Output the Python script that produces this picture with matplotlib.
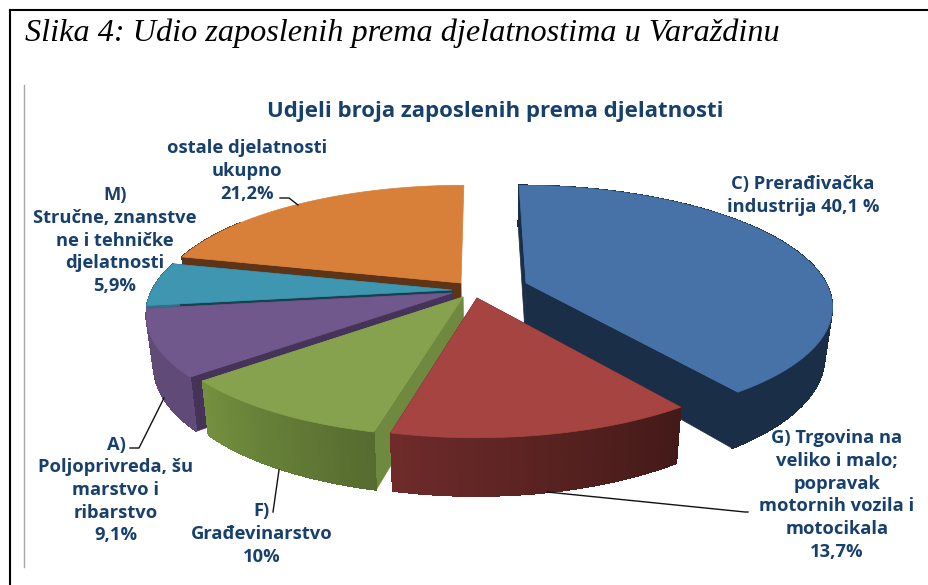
import numpy as np
import matplotlib
matplotlib.use('Agg')
import matplotlib.pyplot as plt
from matplotlib.collections import PolyCollection
from matplotlib.patches import Polygon

# udjeli u postocima, redom od 12 sati u smjeru kazaljke
names = ['C', 'G', 'F', 'A', 'M', 'ostale']
shares = [40.1, 13.7, 10.0, 9.1, 5.9, 21.2]

label_texts = ['C) Prerađivačka\nindustrija 40,1 %',
               'G) Trgovina na\nveliko i malo;\npopravak\nmotornih vozila i\nmotocikala\n13,7%',
               'F)\nGrađevinarstvo\n10%',
               'A)\nPoljoprivreda, šu\nmarstvo i\nribarstvo\n9,1%',
               'M)\nStručne, znanstve\nne i tehničke\ndjelatnosti\n5,9%',
               'ostale djelatnosti\nukupno\n21,2%']

# stil i raspored (pikseli slike)
apex = {'C': (526, 283), 'G': (477, 298), 'F': (463, 297), 'A': (452, 293), 'M': (452, 290), 'ostale': (461, 283)}
top_col = {'C': '#4672a7', 'G': '#a64441', 'F': '#87a24e', 'A': '#70578c', 'M': '#3f96b0', 'ostale': '#d8803a'}
cut_col = {'C': '#1b2e47', 'G': '#431a18', 'F': '#6f8a40', 'A': '#46335a', 'M': '#17414f', 'ostale': '#5e3418'}
side_col = {'C': ('#1b2e47', '#1b2e47'), 'G': ('#431a18', '#6e2b2a'), 'F': ('#566b30', '#74903f'),
            'A': ('#5f4a78', '#5f4a78'), 'M': ('#2f7186', '#2f7186'), 'ostale': ('#5e3418', '#5e3418')}
label_pos = {'C': (803, 195.5), 'G': (837, 495), 'F': (262, 534), 'A': (116, 490), 'M': (115, 240.5), 'ostale': (247, 171)}
leaders = [[(280, 198), (289, 198), (298, 205)],
           [(130, 448), (139, 448), (164, 398)],
           [(273, 512), (279, 470)],
           [(748, 512), (745, 512), (547, 492)]]
draw_order = ['ostale', 'M', 'A', 'F', 'C', 'G']

W, H = 929, 585
X0 = 480      # tocka prema kojoj se sve skuplja (perspektiva)
RX, RY, P = 300, 115, 0.177
DEPTH, BOTTOM = 48, 0.978


def project(ax_, ay_, t):
    # t u stupnjevima od 12 sati
    t = np.radians(t)
    u, v = np.sin(t), np.cos(t)
    s = 1 / (1 + P * v)
    x = X0 + (ax_ - X0 + RX * u) * s
    y = ay_ - RY * v * s
    return x, y, s


def lower(x, y, s):
    return X0 + (x - X0) * BOTTOM, y + DEPTH * s


def mix(c1, c2, f):
    a = np.array(matplotlib.colors.to_rgb(c1))
    b = np.array(matplotlib.colors.to_rgb(c2))
    return tuple(a + (b - a) * f)


fig = plt.figure(figsize=(W / 100, H / 100), dpi=100)
ax = fig.add_axes([0, 0, 1, 1])
ax.set_xlim(0, W)
ax.set_ylim(H, 0)
ax.axis('off')

# okvir stranice
ax.plot([10, 10], [H, 10], color='black', lw=1.5, solid_capstyle='projecting')
ax.plot([10, W], [10, 10], color='black', lw=1.5, solid_capstyle='projecting')
ax.plot([24.5, 24.5], [85, 567], color='#a8a8a8', lw=1)

ax.text(25, 33, 'Slika 4: Udio zaposlenih prema djelatnostima u Varaždinu', family='Liberation Serif',
        style='italic', fontsize=23.2, color='black', ha='left', va='center')
ax.text(495, 112, 'Udjeli broja zaposlenih prema djelatnosti', family='Open Sans', weight='bold',
        fontsize=16, color='#17406d', ha='center', va='center')

edges = np.cumsum([0] + shares) * 3.6
start = dict(zip(names, edges[:-1]))
stop = dict(zip(names, edges[1:]))

for n in draw_order:
    a = apex[n]
    ts = np.linspace(start[n], stop[n], 90)
    x, y, s = project(a[0], a[1], ts)
    xb, yb = lower(x, y, s)
    ax0b = lower(a[0], a[1], 1)

    # rezovi (desni rez narancaste se ne vidi)
    for i in ((0,) if n == 'ostale' else (0, -1)):
        pts = [a, (x[i], y[i]), (xb[i], yb[i]), ax0b]
        ax.add_patch(Polygon(pts, closed=True, fc=cut_col[n], ec=cut_col[n], lw=0.5))

    # vanjski rub, sjencanje po segmentima (narancasta: samo lijevi kraj)
    quads = []
    cols = []
    n_seg = 25 if n == 'ostale' else len(ts) - 1
    for i in range(n_seg):
        quads.append([(x[i], y[i]), (x[i + 1], y[i + 1]), (xb[i + 1], yb[i + 1]), (xb[i], yb[i])])
        cols.append(mix(side_col[n][0], side_col[n][1], i / (len(ts) - 2)))
    ax.add_collection(PolyCollection(quads, facecolors=cols, edgecolors=cols, linewidths=0.5, antialiaseds=False))

    # gornja ploha
    pts = [a] + list(zip(x, y))
    ax.add_patch(Polygon(pts, closed=True, fc=top_col[n], ec=top_col[n], lw=0.5))

for line in leaders:
    ax.plot([p[0] for p in line], [p[1] for p in line], color='#111111', lw=1)

for n, txt in zip(names, label_texts):
    ax.text(label_pos[n][0], label_pos[n][1], txt, family='Open Sans', weight='bold', fontsize=13.2,
            color='#17406d', ha='center', va='center', linespacing=1.33)

fig.savefig('out.png', dpi=100)
